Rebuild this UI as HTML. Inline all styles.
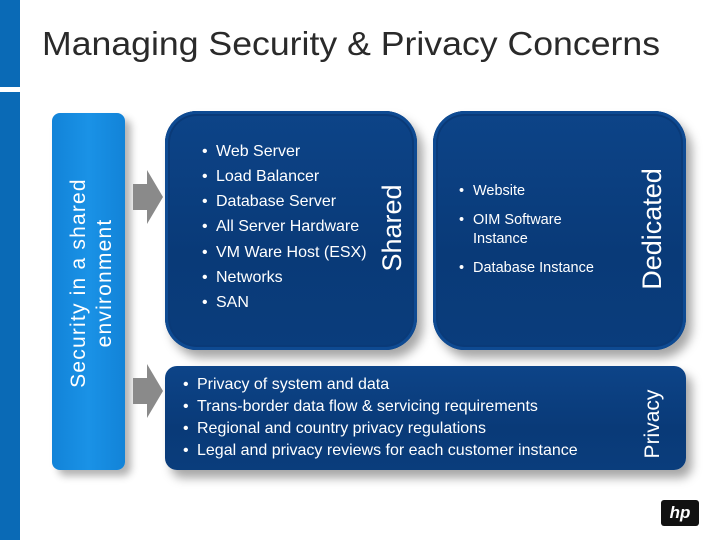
<!DOCTYPE html>
<html><head><style>
body{margin:0;width:720px;height:540px;background:#fff;position:relative;overflow:hidden;font-family:"Liberation Sans",sans-serif}
.abs{position:absolute}
.box{position:absolute;background:linear-gradient(180deg,#0d4488 0%,#093a78 60%,#0a3d7c 100%);box-shadow:6px 8px 10px rgba(0,0,0,0.35), inset 0 0 0 3px #0e4a92, inset 0 0 0 5px #0a3a78}
.li{position:absolute;color:#fff;font-size:16px;white-space:nowrap;line-height:18px}
.li b{font-weight:normal;position:absolute;left:-14px}
.rot{position:absolute;color:#fff;transform:rotate(-90deg);transform-origin:center;white-space:nowrap;text-align:center}
</style></head><body>
<div class="abs" style="left:0;top:0;width:20px;height:87px;background:#0a6ab6"></div>
<div class="abs" style="left:0;top:92px;width:20px;height:448px;background:#0a6ab6"></div>
<div class="abs" style="left:42px;top:25px;font-size:33px;color:#2a2a2a;white-space:nowrap;transform:scaleX(1.08);transform-origin:left">Managing Security &amp; Privacy Concerns</div>

<div class="abs" style="left:52px;top:113px;width:73px;height:357px;border-radius:8px;background:linear-gradient(90deg,#1283d8,#1a92e6 50%,#1283d8);box-shadow:6px 6px 8px rgba(0,0,0,0.3)"></div>
<div class="rot" style="left:-57px;top:256px;width:300px;height:54px;font-size:21px;letter-spacing:1.2px;line-height:26px">Security in a shared<br>environment</div>

<svg class="abs" style="left:133px;top:170px" width="32" height="60"><polygon points="0,14 14,14 14,0 30,27 14,54 14,40 0,40" fill="#8a8a8a"/></svg>
<svg class="abs" style="left:133px;top:364px" width="32" height="60"><polygon points="0,14 14,14 14,0 30,27 14,54 14,40 0,40" fill="#8a8a8a"/></svg>

<div class="box" style="left:165px;top:111px;width:252px;height:239px;border-radius:32px"></div>
<div class="li" style="left:216px;top:143px"><b>•</b>Web Server</div>
<div class="li" style="left:216px;top:168px"><b>•</b>Load Balancer</div>
<div class="li" style="left:216px;top:193px"><b>•</b>Database Server</div>
<div class="li" style="left:216px;top:218px"><b>•</b>All Server Hardware</div>
<div class="li" style="left:216px;top:244px"><b>•</b>VM Ware Host (ESX)</div>
<div class="li" style="left:216px;top:269px"><b>•</b>Networks</div>
<div class="li" style="left:216px;top:294px"><b>•</b>SAN</div>
<div class="rot" style="left:332px;top:212px;width:120px;height:32px;font-size:27px;line-height:32px">Shared</div>

<div class="box" style="left:433px;top:111px;width:253px;height:239px;border-radius:32px"></div>
<div class="li" style="left:473px;top:182px;font-size:14.5px"><b>•</b>Website</div>
<div class="li" style="left:473px;top:211px;font-size:14.5px;line-height:19px"><b>•</b>OIM Software<br>Instance</div>
<div class="li" style="left:473px;top:259px;font-size:14.5px"><b>•</b>Database Instance</div>
<div class="rot" style="left:577px;top:213px;width:150px;height:32px;font-size:27px;line-height:32px">Dedicated</div>

<div class="box" style="left:165px;top:366px;width:521px;height:104px;border-radius:12px;box-shadow:6px 8px 10px rgba(0,0,0,0.35)"></div>
<div class="li" style="left:197px;top:376px"><b>•</b>Privacy of system and data</div>
<div class="li" style="left:197px;top:398px"><b>•</b>Trans-border data flow &amp; servicing requirements</div>
<div class="li" style="left:197px;top:420px"><b>•</b>Regional and country privacy regulations</div>
<div class="li" style="left:197px;top:442px"><b>•</b>Legal and privacy reviews for each customer instance</div>
<div class="rot" style="left:608px;top:411px;width:90px;height:26px;font-size:21px;line-height:26px">Privacy</div>

<div class="abs" style="left:661px;top:500px;width:38px;height:26px;background:#111;border-radius:3px"></div>
<div class="abs" style="left:661px;top:501px;width:38px;height:24px;color:#fff;font-size:17px;font-style:italic;font-weight:bold;text-align:center;line-height:24px">hp</div>
</body></html>
